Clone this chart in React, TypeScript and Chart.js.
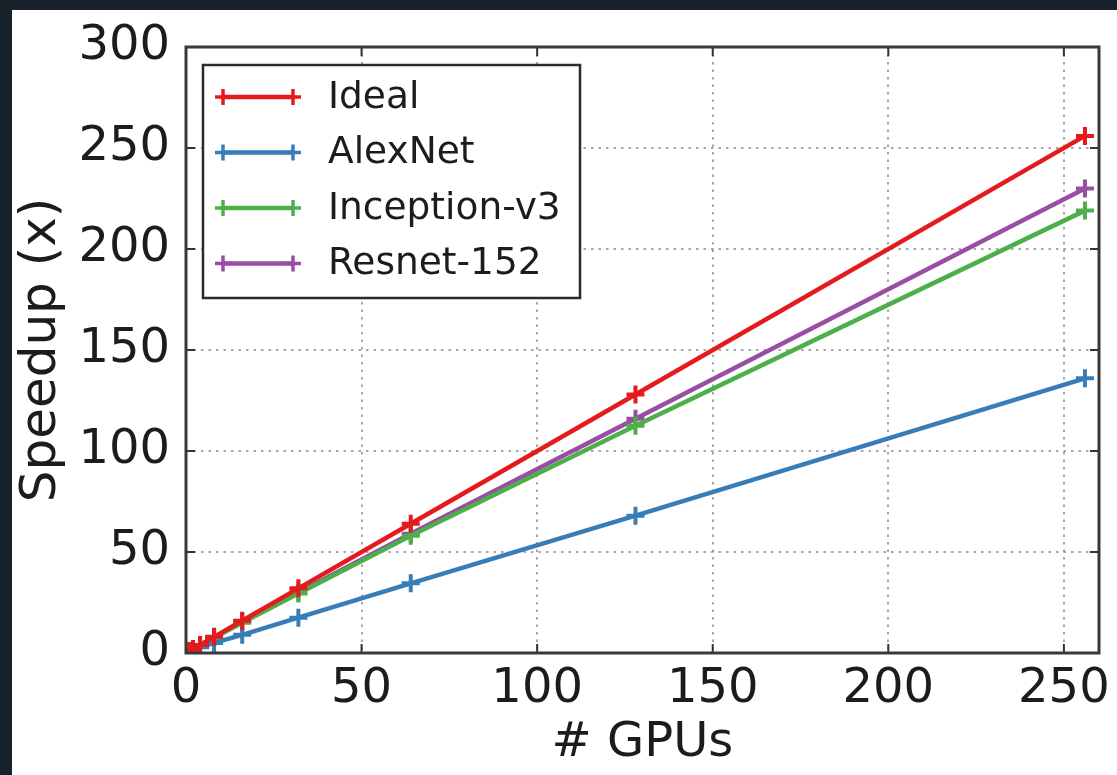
import React, { useEffect, useRef } from "react";
import { Chart, registerables } from "chart.js";

Chart.register(...registerables);

const gpus = [1, 2, 4, 8, 16, 32, 64, 128, 256];
const ideal = [1, 2, 4, 8, 16, 32, 64, 128, 256];
const alexnet = [1, 1.7, 2.8, 5, 9, 17.5, 34.5, 68, 136];
const inception = [1, 2, 3.9, 7.6, 15, 29.5, 58, 112.5, 219];
const resnet = [1, 2, 3.9, 7.7, 15.5, 30, 59, 116, 230];

const seriesNames = ["Ideal", "AlexNet", "Inception-v3", "Resnet-152"];
const seriesColors = ["#e41a1c", "#377eb8", "#4daf4a", "#984ea3"];
const seriesValues = [ideal, alexnet, inception, resnet];

const FONT = "'DejaVu Sans', 'Liberation Sans', sans-serif";
const TEXT = "#1c1c1c";

function drawPlus(ctx: CanvasRenderingContext2D, x: number, y: number, r: number) {
  ctx.beginPath();
  ctx.moveTo(x - r, y);
  ctx.lineTo(x + r, y);
  ctx.moveTo(x, y - r);
  ctx.lineTo(x, y + r);
  ctx.stroke();
}

const framePlugin = {
  id: "frameAndLegend",
  afterDatasetsDraw(chart: any) {
    const { ctx, chartArea } = chart;
    const { left, right, top, bottom } = chartArea;
    ctx.save();
    // inner ticks
    ctx.strokeStyle = "#333";
    ctx.lineWidth = 2;
    const xs = chart.scales.x;
    const ys = chart.scales.y;
    xs.ticks.forEach((t: any) => {
      const px = xs.getPixelForValue(t.value);
      ctx.beginPath();
      ctx.moveTo(px, bottom);
      ctx.lineTo(px, bottom - 9);
      ctx.moveTo(px, top);
      ctx.lineTo(px, top + 9);
      ctx.stroke();
    });
    ys.ticks.forEach((t: any) => {
      const py = ys.getPixelForValue(t.value);
      ctx.beginPath();
      ctx.moveTo(left, py);
      ctx.lineTo(left + 9, py);
      ctx.moveTo(right, py);
      ctx.lineTo(right - 9, py);
      ctx.stroke();
    });
    // frame
    ctx.strokeStyle = "#3a3a3a";
    ctx.lineWidth = 3;
    ctx.strokeRect(left, top, right - left, bottom - top);

    // legend
    const lx = left + 17;
    const ly = top + 18;
    const lw = 377;
    const lh = 233;
    ctx.fillStyle = "#ffffff";
    ctx.fillRect(lx, ly, lw, lh);
    ctx.strokeStyle = "#2a2a2a";
    ctx.lineWidth = 2.5;
    ctx.strokeRect(lx, ly, lw, lh);
    ctx.font = `37.5px ${FONT}`;
    ctx.textBaseline = "middle";
    ctx.textAlign = "left";
    chart.data.datasets.forEach((ds: any, i: number) => {
      const cy = ly + 32 + i * 55.5;
      const x1 = lx + 20;
      const x2 = lx + 90;
      ctx.strokeStyle = ds.borderColor;
      ctx.lineWidth = 4.5;
      ctx.beginPath();
      ctx.moveTo(x1, cy);
      ctx.lineTo(x2, cy);
      ctx.stroke();
      ctx.lineWidth = 3.5;
      drawPlus(ctx, x1, cy, 8);
      drawPlus(ctx, x2, cy, 8);
      ctx.fillStyle = TEXT;
      ctx.fillText(ds.label, lx + 125, cy + 1);
    });
    ctx.restore();
  },
};

export default function App() {
  const ref = useRef<HTMLCanvasElement>(null);
  useEffect(() => {
    if (!ref.current) return;
    const datasets = seriesNames.map((name, i) => ({
      label: name,
      data: gpus.map((g, j) => ({ x: g, y: seriesValues[i][j] })),
      borderColor: seriesColors[i],
      backgroundColor: seriesColors[i],
      borderWidth: 4.5,
      pointStyle: "cross",
      pointRadius: 9,
      pointBorderWidth: 4,
      pointHoverRadius: 9,
      tension: 0,
      fill: false,
    }));
    const gridColor = (c: any) => "rgba(130,130,130,0.7)";
    const chart = new Chart(ref.current, {
      type: "line",
      data: { datasets },
      options: {
        animation: false,
        responsive: false,
        maintainAspectRatio: false,
        events: [],
        layout: { padding: { left: 0, top: 37, right: 18, bottom: 0 } },
        plugins: { legend: { display: false }, tooltip: { enabled: false } },
        scales: {
          x: {
            type: "linear",
            min: 0,
            max: 260,
            afterFit: (s: any) => {
              s.height = 122;
              s.paddingLeft = 0;
              s.paddingRight = 0;
              s.paddingTop = 0;
              s.paddingBottom = 0;
            },
            ticks: {
              stepSize: 50,
              includeBounds: false,
              padding: 8,
              color: TEXT,
              font: { family: FONT, size: 48 },
              maxRotation: 0,
            },
            grid: { color: gridColor, lineWidth: 2, drawTicks: false },
            border: { display: false, dash: [2.5, 5] },
            title: {
              display: true,
              text: "# GPUs",
              color: TEXT,
              font: { family: FONT, size: 48, lineHeight: 1.2 },
              padding: { top: 0, bottom: 3 },
            },
          },
          y: {
            type: "linear",
            min: 0,
            max: 300,
            afterFit: (s: any) => {
              s.width = 174;
              s.paddingLeft = 0;
              s.paddingRight = 0;
              s.paddingTop = 0;
              s.paddingBottom = 0;
            },
            ticks: {
              stepSize: 50,
              padding: 16,
              color: TEXT,
              font: { family: FONT, size: 48 },
            },
            grid: { color: gridColor, lineWidth: 2, drawTicks: false },
            border: { display: false, dash: [2.5, 5] },
            title: {
              display: true,
              text: "Speedup (x)",
              color: TEXT,
              font: { family: FONT, size: 50, lineHeight: 1.2 },
              padding: { top: 0, bottom: 0 },
            },
          },
        },
      },
      plugins: [framePlugin],
    });
    return () => chart.destroy();
  }, []);

  return (
    <div style={{ position: "fixed", inset: 0, background: "#17212b" }}>
      <div
        style={{
          position: "absolute",
          left: 12,
          top: 10,
          right: 0,
          bottom: 0,
          background: "#ffffff",
        }}
      >
        <canvas ref={ref} width={1105} height={765} style={{ display: "block" }} />
      </div>
    </div>
  );
}
